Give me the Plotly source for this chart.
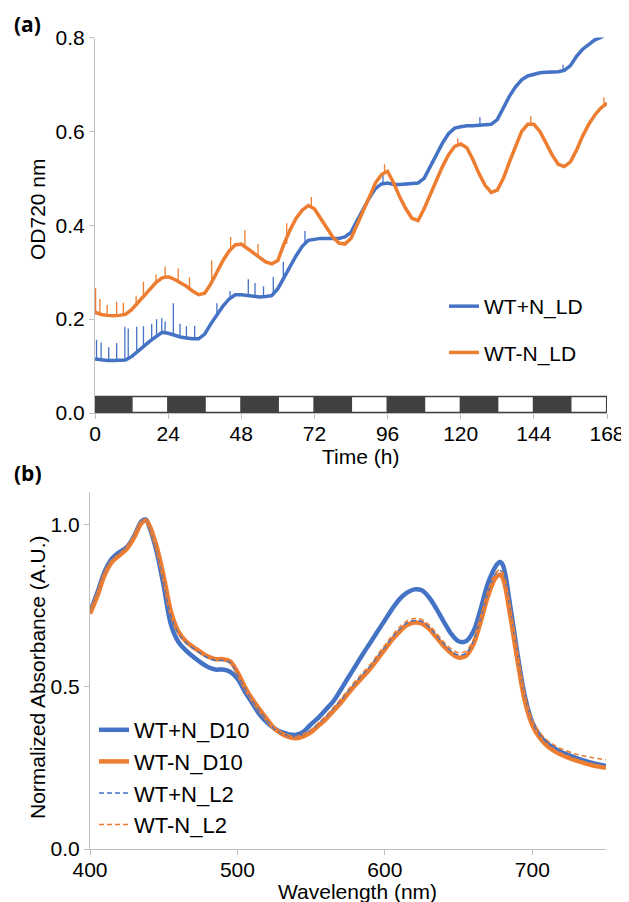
import plotly.graph_objects as go

# ---- panel (a): growth curves under light/dark cycles ----
hours = list(range(0, 170, 2))

od_wt_plus_n = [
    0.115, 0.113, 0.112, 0.112, 0.112, 0.113, 0.12, 0.13, 0.142, 0.153, 0.163, 0.172,
    0.17, 0.165, 0.162, 0.16, 0.158, 0.158, 0.168, 0.19, 0.21, 0.228, 0.243, 0.252,
    0.252, 0.25, 0.248, 0.247, 0.248, 0.25, 0.265, 0.29, 0.312, 0.335, 0.355, 0.368,
    0.37, 0.372, 0.372, 0.372, 0.372, 0.375, 0.385, 0.41, 0.435, 0.458, 0.478, 0.488,
    0.49, 0.487, 0.487, 0.488, 0.488, 0.49, 0.5, 0.525, 0.55, 0.575, 0.595, 0.607,
    0.61, 0.612, 0.612, 0.613, 0.613, 0.615, 0.625, 0.65, 0.675, 0.695, 0.71, 0.718,
    0.722, 0.725, 0.726, 0.726, 0.727, 0.73, 0.74, 0.76, 0.775, 0.785, 0.795, 0.8,
    0.808,
]
od_wt_minus_n = [
    0.215, 0.21, 0.208, 0.207, 0.208, 0.21, 0.22, 0.235, 0.25, 0.265, 0.278, 0.288,
    0.29, 0.285, 0.278, 0.27, 0.26, 0.252, 0.255, 0.275, 0.3, 0.325, 0.345, 0.358,
    0.36, 0.35, 0.34, 0.33, 0.322, 0.318, 0.325, 0.36, 0.39, 0.415, 0.432, 0.442,
    0.435, 0.415, 0.395, 0.375, 0.362, 0.36, 0.372, 0.4, 0.43, 0.46, 0.49, 0.508,
    0.515, 0.49, 0.46, 0.435, 0.415, 0.41, 0.435, 0.465, 0.495, 0.525, 0.55, 0.568,
    0.573, 0.565, 0.54, 0.51, 0.485, 0.47, 0.475, 0.5, 0.535, 0.57, 0.6, 0.615,
    0.615, 0.6, 0.575, 0.55, 0.53, 0.525, 0.535, 0.56, 0.59, 0.615, 0.635, 0.65,
    0.66,
]

# noisy spikes: time, bottom, top
spikes_plus_t = [0.5, 2.0, 4.5, 7.1, 9.8, 10.9, 13.7, 15.9, 18.6, 20.2, 21.9, 23.0,
                 25.7, 27.9, 30.0, 32.7, 40.0, 44.3, 50.3, 52.5, 55.3, 58.5, 61.8,
                 68.9, 94.5, 126.3, 153.6]
spikes_plus_lo = [0.113, 0.112, 0.112, 0.112, 0.113, 0.115, 0.13, 0.14, 0.155, 0.163,
                  0.171, 0.172, 0.167, 0.163, 0.16, 0.158, 0.21, 0.245, 0.25, 0.248,
                  0.247, 0.25, 0.28, 0.36, 0.488, 0.613, 0.728]
spikes_plus_hi = [0.156, 0.15, 0.14, 0.149, 0.184, 0.18, 0.184, 0.185, 0.19, 0.2,
                  0.202, 0.195, 0.234, 0.19, 0.185, 0.186, 0.234, 0.26, 0.285, 0.277,
                  0.27, 0.29, 0.322, 0.388, 0.512, 0.63, 0.742]
spikes_minus_t = [0.2, 1.6, 4.0, 7.1, 9.3, 13.5, 15.9, 20.0, 23.0, 27.3, 31.0, 38.3,
                  44.5, 49.2, 53.5, 62.9, 71.0, 95.0, 119.0, 143.0, 167.0]
spikes_minus_lo = [0.21, 0.21, 0.208, 0.207, 0.209, 0.23, 0.245, 0.278, 0.289, 0.282,
                   0.265, 0.283, 0.35, 0.358, 0.335, 0.36, 0.438, 0.51, 0.57, 0.615,
                   0.655]
spikes_minus_hi = [0.266, 0.243, 0.23, 0.237, 0.235, 0.25, 0.28, 0.295, 0.312, 0.308,
                   0.289, 0.325, 0.375, 0.39, 0.36, 0.404, 0.46, 0.53, 0.585, 0.632,
                   0.672]

light_on = [12, 36, 60, 84, 108, 132, 156]
light_off = [24, 48, 72, 96, 120, 144, 168]

# ---- panel (b): absorbance spectra ----
wavelength = [
    400, 405, 410, 415, 420, 425, 430, 435, 438, 440,
    445, 450, 455, 460, 465, 470, 475, 480, 485, 490,
    495, 500, 505, 510, 515, 520, 525, 530, 535, 540,
    545, 550, 555, 560, 565, 570, 575, 580, 585, 590,
    595, 600, 605, 610, 615, 620, 625, 630, 635, 640,
    645, 650, 655, 660, 665, 670, 675, 678, 680, 685,
    690, 695, 700, 705, 710, 715, 720, 730, 740, 750,
]
abs_plus_d10 = [
    0.73, 0.79, 0.855, 0.895, 0.915, 0.93, 0.965, 1.01, 1.015, 0.995,
    0.92, 0.81, 0.69, 0.638, 0.612, 0.592, 0.575, 0.561, 0.553, 0.553,
    0.546, 0.525, 0.485, 0.45, 0.415, 0.39, 0.372, 0.36, 0.353, 0.352,
    0.362, 0.385, 0.405, 0.43, 0.455, 0.49, 0.527, 0.563, 0.6, 0.635,
    0.67, 0.705, 0.74, 0.77, 0.79, 0.8, 0.797, 0.775, 0.74, 0.7,
    0.663, 0.64, 0.64, 0.67, 0.74, 0.82, 0.87, 0.884, 0.875, 0.75,
    0.6, 0.47, 0.39, 0.35, 0.325, 0.31, 0.298, 0.28, 0.266, 0.256,
]
abs_minus_d10 = [
    0.725, 0.78, 0.845, 0.885, 0.905, 0.925, 0.96, 1.005, 1.012, 1.0,
    0.935, 0.84, 0.73, 0.67, 0.64, 0.622, 0.607, 0.593, 0.585, 0.585,
    0.578, 0.545, 0.5, 0.462, 0.43, 0.4, 0.372, 0.355, 0.345, 0.341,
    0.348, 0.36, 0.38, 0.4, 0.425, 0.45, 0.478, 0.505, 0.53, 0.555,
    0.585, 0.615, 0.645, 0.67, 0.69, 0.698, 0.695, 0.678, 0.652, 0.625,
    0.603, 0.59, 0.595, 0.63, 0.7, 0.78, 0.835, 0.845, 0.835, 0.72,
    0.58, 0.455, 0.382, 0.343, 0.318, 0.302, 0.29, 0.272, 0.259, 0.25,
]
abs_plus_l2 = [
    0.728, 0.785, 0.85, 0.89, 0.91, 0.928, 0.963, 1.008, 1.014, 0.998,
    0.93, 0.83, 0.72, 0.665, 0.636, 0.618, 0.603, 0.589, 0.581, 0.581,
    0.574, 0.54, 0.495, 0.458, 0.426, 0.397, 0.371, 0.356, 0.348, 0.346,
    0.354, 0.367, 0.387, 0.408, 0.433, 0.458, 0.486, 0.513, 0.538, 0.563,
    0.593, 0.622, 0.652, 0.677, 0.697, 0.704, 0.701, 0.684, 0.658, 0.632,
    0.61, 0.598, 0.603, 0.64, 0.71, 0.79, 0.848, 0.858, 0.85, 0.74,
    0.6, 0.47, 0.393, 0.352, 0.327, 0.311, 0.299, 0.281, 0.268, 0.259,
]
abs_minus_l2 = [
    0.727, 0.783, 0.848, 0.888, 0.908, 0.927, 0.962, 1.007, 1.013, 1.0,
    0.937, 0.842, 0.733, 0.672, 0.642, 0.624, 0.609, 0.595, 0.587, 0.587,
    0.58, 0.547, 0.503, 0.465, 0.433, 0.403, 0.376, 0.359, 0.35, 0.347,
    0.355, 0.368, 0.389, 0.41, 0.436, 0.462, 0.49, 0.518, 0.543, 0.568,
    0.598, 0.628, 0.658, 0.684, 0.703, 0.71, 0.707, 0.69, 0.665, 0.638,
    0.617, 0.605, 0.61, 0.645, 0.715, 0.795, 0.85, 0.86, 0.852, 0.745,
    0.605, 0.475, 0.398, 0.36, 0.335, 0.32, 0.308, 0.292, 0.282, 0.275,
]

BLUE = "#4472C4"
ORANGE = "#ED7D31"
GRAY = "#bfbfbf"
FONT = "Liberation Sans, Arial, sans-serif"

# the page body has an 8px margin, so the figure is a little smaller than the window
PAGE_OFF = 8
FW, FH = 629 - PAGE_OFF, 902 - PAGE_OFF


def px(x):
    return (x - PAGE_OFF) / FW


def py(y):
    return 1 - (y - PAGE_OFF) / FH


def segments(t, lo, hi):
    xs, ys = [], []
    for a, b, c in zip(t, lo, hi):
        xs += [a, a, None]
        ys += [b, c, None]
    return xs, ys


fig = go.Figure()

# panel (a)
fig.add_trace(go.Scatter(x=hours, y=od_wt_plus_n, mode="lines", name="WT+N_LD",
                         line=dict(color=BLUE, width=3.5), xaxis="x", yaxis="y",
                         legend="legend", legendgroup="a1"))
sx, sy = segments(spikes_plus_t, spikes_plus_lo, spikes_plus_hi)
fig.add_trace(go.Scatter(x=sx, y=sy, mode="lines", showlegend=False,
                         line=dict(color=BLUE, width=1.3), xaxis="x", yaxis="y"))
fig.add_trace(go.Scatter(x=hours, y=od_wt_minus_n, mode="lines", name="WT-N_LD",
                         line=dict(color=ORANGE, width=3.5), xaxis="x", yaxis="y",
                         legend="legend", legendgroup="a2"))
sx, sy = segments(spikes_minus_t, spikes_minus_lo, spikes_minus_hi)
fig.add_trace(go.Scatter(x=sx, y=sy, mode="lines", showlegend=False,
                         line=dict(color=ORANGE, width=1.3), xaxis="x", yaxis="y"))

# panel (b)
spectra = [
    ("WT+N_D10", abs_plus_d10, BLUE, "solid", 4.5),
    ("WT-N_D10", abs_minus_d10, ORANGE, "solid", 4.5),
    ("WT+N_L2", abs_plus_l2, BLUE, "5px,3px", 1.5),
    ("WT-N_L2", abs_minus_l2, ORANGE, "5px,3px", 1.5),
]
for i, (name, vals, col, dash, w) in enumerate(spectra):
    fig.add_trace(go.Scatter(x=wavelength, y=vals, mode="lines", name=name,
                             line=dict(color=col, width=w, dash=dash, shape="spline"),
                             xaxis="x2", yaxis="y2", legend="legend2",
                             legendgroup="b%d" % i))

# light/dark bar
shapes = [dict(type="rect", xref="x", yref="y", x0=0, x1=168, y0=0, y1=0.037,
               fillcolor="#404040", line=dict(width=0), layer="above")]
for on, off in zip(light_on, light_off):
    shapes.append(dict(type="rect", xref="x", yref="y", x0=on + 0.35, x1=off - 0.35,
                       y0=0.0025, y1=0.0335, fillcolor="white",
                       line=dict(width=0), layer="above"))

axis_common = dict(showgrid=False, zeroline=False, showline=True, linecolor=GRAY,
                   linewidth=1, ticks="outside", ticklen=5, tickcolor=GRAY,
                   automargin=False,
                   tickfont=dict(family=FONT, size=21, color="black"))


def label(text, x, y, size=21, angle=0, family=FONT):
    return dict(text=text, x=px(x), y=py(y), xref="paper", yref="paper",
                xanchor="center", yanchor="middle", showarrow=False, textangle=angle,
                font=dict(family=family, size=size, color="black"))


fig.update_layout(
    width=FW, height=FH,
    margin=dict(l=0, r=0, t=0, b=0),
    paper_bgcolor="white", plot_bgcolor="white",
    font=dict(family=FONT, color="black"),
    shapes=shapes,
    xaxis=dict(axis_common, domain=[px(95), px(607)], range=[0, 168],
               tickvals=[0, 24, 48, 72, 96, 120, 144, 168], anchor="y",
               ticklabelstandoff=-3),
    yaxis=dict(axis_common, domain=[py(413), py(37.5)], range=[0, 0.8],
               tickvals=[0, 0.2, 0.4, 0.6, 0.8], tickformat=".1f", anchor="x"),
    xaxis2=dict(axis_common, domain=[px(90), px(606)], range=[400, 750],
                tickvals=[400, 500, 600, 700], anchor="y2",
                ticklabelstandoff=-3),
    yaxis2=dict(axis_common, domain=[py(849), py(492)], range=[0, 1.1],
                tickvals=[0, 0.5, 1.0], tickformat=".1f", anchor="x2"),
    legend=dict(x=px(444), y=py(286), xanchor="left", yanchor="top",
                font=dict(family=FONT, size=21), bgcolor="rgba(0,0,0,0)",
                itemwidth=30, tracegroupgap=16, traceorder="grouped"),
    legend2=dict(x=px(94), y=py(709), xanchor="left", yanchor="top",
                 font=dict(family=FONT, size=22), bgcolor="rgba(0,0,0,0)",
                 itemwidth=30, tracegroupgap=0, traceorder="grouped"),
    annotations=[
        label("Time (h)", 360, 456),
        label("OD720 nm", 37, 209, angle=-90),
        label("Wavelength (nm)", 358, 891),
        label("Normalized Absorbance (A.U.)", 37, 677, angle=-90),
        label("<b>(a)</b>", 27, 24, size=21, family="Open Sans"),
        label("<b>(b)</b>", 28, 473, size=21, family="Open Sans"),
    ],
)

fig.write_html("out.html")
